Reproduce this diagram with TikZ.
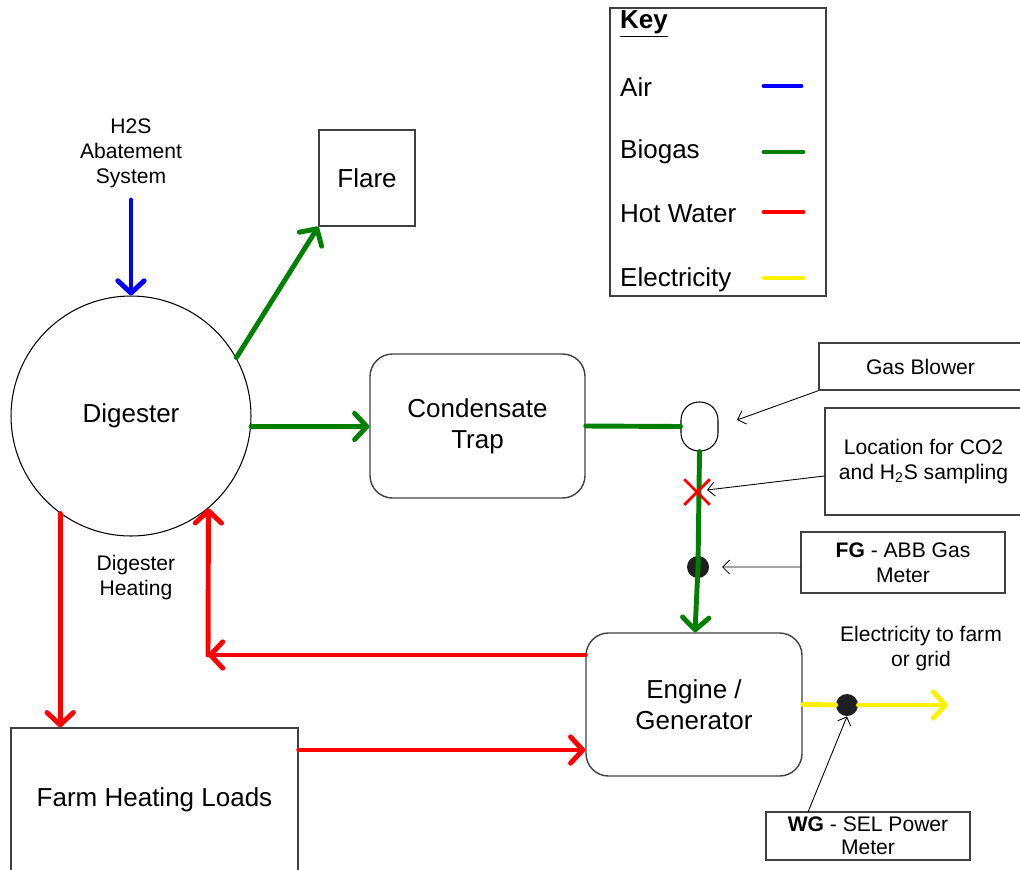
\documentclass[tikz,border=0pt]{standalone}
\usepackage{fontspec}
\setmainfont{Liberation Sans}
\usetikzlibrary{arrows.meta,calc}
\begin{document}
\begin{tikzpicture}[x=0.02cm,y=-0.02cm,
  big/.style={font=\fontsize{14.8}{17.5}\selectfont},
  small/.style={font=\fontsize{12}{14.2}\selectfont},
  box/.style={draw=black!75,line width=0.8pt,inner sep=0pt,align=center},
  rbox/.style={box,rounded corners=0.45cm},
  flow/.style={line width=2.8pt,line cap=round,-{Straight Barb[length=7pt,width=15pt,line cap=round,line join=round]}},
  pipe/.style={line width=2.8pt,line cap=round},
  air/.style={blue},
  gas/.style={green!50!black},
  hot/.style={red},
  elec/.style={yellow},
  callout/.style={line width=0.5pt,-{Straight Barb[length=4pt,width=8pt]}},
  dot/.style={circle,fill=black!88,inner sep=0pt,minimum size=0.44cm}]
\useasboundingbox (0,0) rectangle (1020,869);

% nodes
\node[circle,draw,line width=0.6pt,minimum size=4.8cm,inner sep=0pt,big] (digester) at (131,416) {Digester};
\node[box,minimum width=96*0.02cm,minimum height=96*0.02cm,big] (flare) at (367,178) {Flare};
\node[rbox,minimum width=215*0.02cm,minimum height=144*0.02cm,big] (trap) at (477.5,426) {Condensate\\Trap};
\node[draw,line width=0.6pt,rounded corners=0.36cm,minimum width=37*0.02cm,minimum height=49*0.02cm,inner sep=0pt] (blower) at (699.5,426.5) {};
\node[rbox,minimum width=216*0.02cm,minimum height=143*0.02cm,big] (engine) at (694,704.5) {Engine /\\Generator};
\node[box,minimum width=287*0.02cm,minimum height=144*0.02cm,big] (farm) at (154.5,800) {Farm Heating Loads};
\node[small,align=center] (h2s) at (131,153) {H2S\\Abatement\\System};
\node[small,align=center] (dheat) at (136,578) {Digester\\Heating};
\node[small,align=center] (elecout) at (921,649) {Electricity to farm\\or grid};

\node[box,minimum width=203*0.02cm,minimum height=47*0.02cm,small] (gbl) at (920.5,366.5) {Gas Blower};
\node[box,minimum width=197*0.02cm,minimum height=107*0.02cm,small] (loc) at (923.5,461.5) {Location for CO2\\and H\textsubscript{2}S sampling};
\node[box,minimum width=204*0.02cm,minimum height=61*0.02cm,small] (fg) at (903,562.5) {\textbf{FG} - ABB Gas\\Meter};
\node[box,minimum width=204*0.02cm,minimum height=48*0.02cm,small,font=\fontsize{12}{13}\selectfont] (wg) at (868,836) {\textbf{WG} - SEL Power\\Meter};

% key
\node[box,minimum width=216*0.02cm,minimum height=288*0.02cm] (key) at (718,152) {};
\node[anchor=west,font=\bfseries\fontsize{14.8}{17.5}\selectfont] (keyt) at (614,24) {\underline{Key}};
\node[big,anchor=west] (kair) at (614,87) {Air};
\node[big,anchor=west] (kgas) at (614,152) {Biogas};
\node[big,anchor=west] (khot) at (614,214) {Hot Water};
\node[big,anchor=west] (kel) at (614,280) {Electricity};
\coordinate (la1) at (764,86); \coordinate (la2) at (801,86);
\coordinate (lg1) at (764,152); \coordinate (lg2) at (803,152);
\coordinate (lh1) at (764,212); \coordinate (lh2) at (803,212);
\coordinate (le1) at (764,278); \coordinate (le2) at (803,278);
\draw[pipe,air] (la1) -- (la2);
\draw[pipe,gas] (lg1) -- (lg2);
\draw[pipe,hot] (lh1) -- (lh2);
\draw[pipe,elec] (le1) -- (le2);

% markers
\node[dot] (fgdot) at (698,567) {};
\node[dot] (wgdot) at (847,705) {};
\node[inner sep=0pt,minimum size=0.5cm] (xmark) at (697,492) {};

% flows
\coordinate (airstart) at (131,200);
\draw[flow,air] (airstart) -- (digester.north);
\draw[flow,gas] (digester.29) -- (flare.south west);
\draw[flow,gas] (digester.-5) -- (digester.-5 -| trap.west);
\draw[pipe,gas] (trap.east) -- (blower.west);
\draw[pipe,gas] (blower.south) -- (fgdot.center);
\draw[flow,gas] (fgdot.center) -- ([xshift=0.02cm]engine.north);
\draw[red,line width=1.6pt] (xmark.north west) -- (xmark.south east) (xmark.north east) -- (xmark.south west);

\coordinate (eout) at (948,705);
\draw[pipe,elec] (engine.east) -- (wgdot);
\draw[flow,elec] (wgdot) -- (eout);

\draw[flow,hot] (digester.234) -- (digester.234 |- farm.north);
\coordinate (hwc) at (208,655);
\draw[flow,hot] (engine.west |- hwc) -- (hwc);
\draw[flow,hot] (hwc) -- (digester.310);
\coordinate (fo) at ([yshift=1cm]farm.east);
\draw[flow,hot] (fo) -- (fo -| engine.west);

% callouts
\coordinate (gbt) at (737,420);
\draw[callout] (gbl.south west) -- (gbt);
\coordinate (loct) at (707,490);
\draw[callout] ([yshift=-0.29cm]loc.west) -- (loct);
\coordinate (fgt) at (722,567);
\draw[callout] ([yshift=-0.09cm]fg.west) -- (fgt);
\coordinate (wgs) at (808,812);
\draw[callout] (wgs) -- (wgdot.south);
\end{tikzpicture}
\end{document}
